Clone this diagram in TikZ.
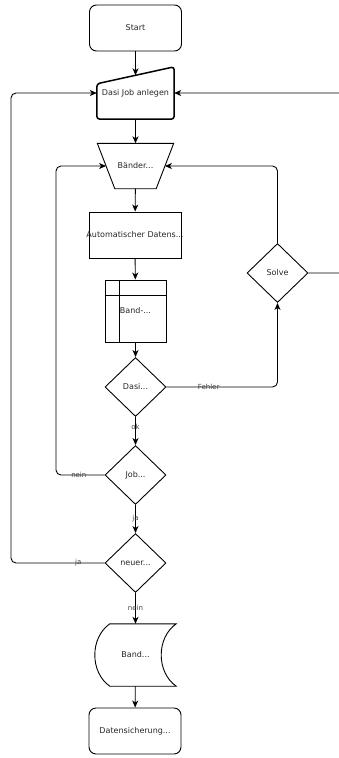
\documentclass[tikz,border=0pt]{standalone}
\usepackage{fontspec}
\setmainfont{DejaVu Sans}
\usepackage{xcolor}
\usepackage{tikz}
\usetikzlibrary{shapes}
\usetikzlibrary{shapes.geometric}
\usetikzlibrary{arrows.meta}
\tikzset{
    flowbox/.style = {rectangle, draw=black, line width=0.9pt, align=center, inner sep=0pt, minimum width=92pt, minimum height=46pt},
    roundbox/.style = {flowbox, rounded corners=7pt},
    plainbox/.style = {rectangle, align=center, inner sep=0pt},
    decbox/.style = {diamond, draw=black, line width=0.9pt, align=center, inner sep=0pt, minimum width=61pt, minimum height=59pt},
}

\begin{document}
\begin{tikzpicture}[
	x=1pt, y=-1pt,
	font=\fontsize{8}{10}\selectfont,
	text=black!85
]
\tikzset{
    edgea/.style = {-{Stealth[length=7pt,width=6pt,inset=2pt]}, line width=0.9pt},
    edgel/.style = {font=\fontsize{7}{8}\selectfont, text=black!75},
    shapeline/.style = {line width=0.9pt},
}
\useasboundingbox (0,0) rectangle (339,758);
\node[roundbox] at (135.5,28) (start) {Start};
\node[plainbox, minimum width=77pt, minimum height=52pt] at (135.5,93) (anlegen) {Dasi Job anlegen};
\node[plainbox, minimum width=58.5pt, minimum height=45pt] at (135.5,166) (bnd) {Bänder...};
\node[flowbox] at (135,235) (auto) {\makebox[0pt]{Automatischer Datens...}};
\node[flowbox, minimum width=61pt, minimum height=62pt] at (135.5,311) (tab) {Band-...};
\node[decbox] at (135.5,387) (dasidec) {Dasi...};
\node[decbox] at (277.5,273) (solve) {Solve};
\node[decbox] at (135.5,475) (jobdec) {Job...};
\node[decbox] at (135.5,563) (neudec) {neuer...};
\node[plainbox, minimum width=81pt, minimum height=62pt] at (135.5,655) (band) {Band...};
\node[roundbox] at (135,731) (save) {Datensicherung...};
\coordinate (lft) at (11,300);
\coordinate (lft2) at (56,300);
\coordinate (rgt) at (352,180);
%
\draw[line width=1.5pt, rounded corners=3pt] (anlegen.south west) -- ([yshift=-17pt]anlegen.north west) -- (anlegen.north east) -- (anlegen.south east) -- cycle;
\draw[shapeline] ([xshift=-8.75pt]bnd.north west) -- ([xshift=8.75pt]bnd.north east) -- ([xshift=-8.75pt]bnd.south east) -- ([xshift=8.75pt]bnd.south west) -- cycle;
\draw[shapeline] ([xshift=15pt]tab.north west) -- ([xshift=15pt]tab.south west);
\draw[shapeline] ([yshift=-16pt]tab.north west) -- ([yshift=-16pt]tab.north east);
\draw[shapeline] ([xshift=15pt]band.north west) -- (band.north east)
    .. controls ([xshift=-20pt,yshift=-14pt]band.north east) and ([xshift=-20pt,yshift=14pt]band.south east) .. (band.south east)
    -- ([xshift=15pt]band.south west)
    .. controls ([xshift=-5pt,yshift=14pt]band.south west) and ([xshift=-5pt,yshift=-14pt]band.north west) .. ([xshift=15pt]band.north west) -- cycle;
%
\draw[edgea] (start) -- ([yshift=-8.5pt]anlegen.north);
\draw[edgea] (anlegen) -- (bnd);
\draw[edgea] (bnd) -- (auto);
\draw[edgea] (auto) -- (tab);
\draw[edgea] (tab) -- (dasidec);
\draw[edgea] (dasidec) -- node[edgel, pos=0.35] {ok} (jobdec);
\draw[edgea] (jobdec) -- node[edgel] {ja} (neudec);
\draw[edgea] (neudec) -- node[edgel] {nein} (band);
\draw[edgea] (band) -- (save);
%
\draw[edgea, rounded corners=5pt] (dasidec.east) -| node[edgel, pos=0.19] {Fehler} (solve.south);
\draw[edgea, rounded corners=5pt] (solve.north) |- (bnd.east);
\draw[edgea, rounded corners=5pt] (solve.east) -| (rgt) |- (anlegen.east);
\draw[edgea, rounded corners=5pt] (jobdec.west) -| node[edgel, pos=0.265] {nein} (lft2) |- (bnd.west);
\draw[edgea, rounded corners=5pt] (neudec.west) -| node[edgel, pos=0.14] {ja} (lft) |- (anlegen.west);
\end{tikzpicture}
\end{document}
